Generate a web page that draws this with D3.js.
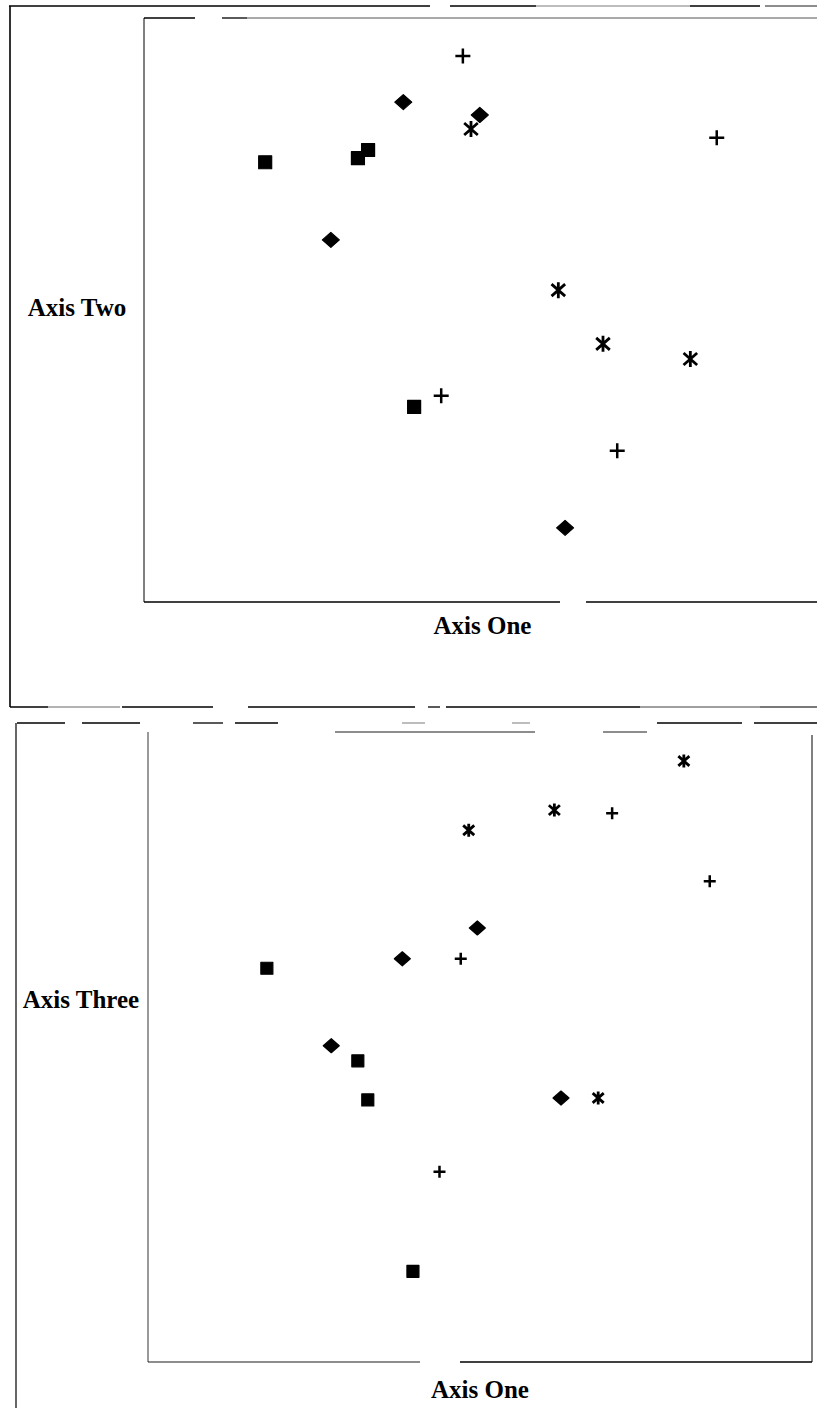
<!DOCTYPE html>
<html>
<head>
<meta charset="utf-8">
<script src="https://cdn.jsdelivr.net/npm/d3@7"></script>
<style>
	html, body { margin: 0; padding: 0; background: #fff; }
	svg { display: block; }
</style>
</head>
<body>
<svg id="chart"></svg>
<script>
// marker group of each sample (order matches the value arrays)
const groups = [
	"square", "square", "square", "square",
	"diamond", "diamond", "diamond", "diamond",
	"asterisk", "asterisk", "asterisk", "asterisk",
	"plus", "plus", "plus", "plus",
];
// ordination scores (arbitrary 0-10 units)
const axisOne = [1.79, 3.16, 3.31, 3.99, 3.83, 4.96, 2.76, 6.22, 4.83, 6.12, 6.78, 8.07, 4.71, 8.46, 4.39, 6.99];
const axisTwo = [7.53, 7.60, 7.74, 3.34, 8.56, 8.34, 6.20, 1.27, 8.10, 5.34, 4.42, 4.16, 9.35, 7.95, 3.53, 2.59];
const axisThree = [6.25, 4.78, 4.16, 1.44, 6.40, 6.89, 5.02, 4.19, 8.44, 8.76, 4.19, 9.54, 6.40, 7.63, 3.02, 8.71];
const axisLabels = ["Axis One", "Axis Two", "Axis Three"];
const domain = [0, 10];

const width = 817;
const height = 1408;
const ink = "#000";

const svg = d3.select("#chart")
	.attr("width", width)
	.attr("height", height)
	.attr("viewBox", [0, 0, width, height]);

// custom marker shapes, size = width in px squared
const shapes = {
	square: {
		draw(ctx, size) {
			const r = Math.sqrt(size) / 2;
			ctx.rect(-r, -r, 2 * r, 2 * r);
		},
	},
	diamond: {
		draw(ctx, size) {
			const rx = Math.sqrt(size) / 2 + 1, ry = Math.sqrt(size) / 2;
			ctx.moveTo(0, -ry);
			ctx.lineTo(rx, 0);
			ctx.lineTo(0, ry);
			ctx.lineTo(-rx, 0);
			ctx.closePath();
		},
	},
	asterisk: {
		draw(ctx, size) {
			const r = Math.sqrt(size) / 2;
			ctx.moveTo(0, -r);
			ctx.lineTo(0, r);
			ctx.moveTo(-r * 0.85, -r * 0.75);
			ctx.lineTo(r * 0.85, r * 0.75);
			ctx.moveTo(-r * 0.85, r * 0.75);
			ctx.lineTo(r * 0.85, -r * 0.75);
		},
	},
	plus: {
		draw(ctx, size) {
			const r = Math.sqrt(size) / 2;
			ctx.moveTo(-r, 0);
			ctx.lineTo(r, 0);
			ctx.moveTo(0, -r);
			ctx.lineTo(0, r);
		},
	},
};

// broken scan-like line: list of [from, to, opacity]
function brokenLine(g, axis, at, pieces, w = 1.3) {
	g.append("g")
		.selectAll("line")
		.data(pieces)
		.join("line")
		.attr("x1", (d) => (axis === "h" ? d[0] : at))
		.attr("x2", (d) => (axis === "h" ? d[1] : at))
		.attr("y1", (d) => (axis === "h" ? at : d[0]))
		.attr("y2", (d) => (axis === "h" ? at : d[1]))
		.attr("stroke", ink)
		.attr("stroke-opacity", (d) => d[2] ?? 1)
		.attr("stroke-width", w);
}

function drawPanel(
	g,
	{
		xValues,
		yValues,
		xRange, // [left, right] of the plot box
		yRange, // [bottom, top] of the plot box
		yLabel,
		yLabelX,
		yLabelY,
		xLabelY,
		sizes, // marker sizes per group
	}
) {
	const xScale = d3.scaleLinear(domain, xRange);
	const yScale = d3.scaleLinear(domain, yRange);

	g.append("g")
		.selectAll("path")
		.data(groups)
		.join("path")
		.attr("transform", (d, i) => `translate(${xScale(xValues[i])},${yScale(yValues[i])})`)
		.attr("d", (d) => d3.symbol(shapes[d], sizes[d] ** 2)())
		.attr("fill", (d) => (d === "square" || d === "diamond" ? ink : "none"))
		.attr("stroke", ink)
		.attr("stroke-linejoin", "round")
		.attr("stroke-width", (d) => (d === "plus" ? 2.5 : d === "asterisk" ? 2.8 : 1.2));

	g.append("text")
		.attr("x", d3.mean(xRange))
		.attr("y", xLabelY)
		.attr("text-anchor", "middle")
		.text(axisLabels[0]);

	g.append("text")
		.attr("x", yLabelX)
		.attr("y", yLabelY)
		.attr("text-anchor", "middle")
		.text(yLabel);

	return { xScale, yScale };
}

const labelsStyle = (sel) =>
	sel.attr("font-family", "'Liberation Serif', 'DejaVu Serif', serif")
		.attr("font-weight", "bold")
		.attr("font-size", 25)
		.attr("fill", ink);

// ---- upper panel: Axis One vs Axis Two
const upper = svg.append("g").call(labelsStyle);
// frames
brokenLine(upper, "h", 6, [[9, 430], [450, 536], [536, 690, 0.35], [690, 760], [765, 817, 0.6]]);
brokenLine(upper, "v", 10, [[6, 707]], 1.6);
brokenLine(upper, "h", 707, [[10, 48], [48, 120, 0.4], [122, 213], [248, 415], [428, 440], [446, 640], [640, 760, 0.5], [760, 817, 0.7]]);
brokenLine(upper, "h", 18, [[144, 195], [222, 247], [247, 817, 0.45]]);
brokenLine(upper, "v", 144, [[18, 602]], 1);
brokenLine(upper, "h", 602, [[144, 560], [586, 817]]);
drawPanel(upper, {
	xValues: axisOne,
	yValues: axisTwo,
	xRange: [144, 821],
	yRange: [602, 18],
	yLabel: axisLabels[1],
	yLabelX: 77,
	yLabelY: 316,
	xLabelY: 634,
	sizes: { square: 13, diamond: 15, asterisk: 16, plus: 15 },
});

// ---- lower panel: Axis One vs Axis Three
const lower = svg.append("g").call(labelsStyle);
brokenLine(lower, "h", 723, [[17, 65], [82, 140], [193, 223], [235, 278], [402, 425, 0.4], [512, 530, 0.4], [657, 742], [754, 817]]);
brokenLine(lower, "v", 16, [[723, 1408]], 1.2);
brokenLine(lower, "h", 732, [[335, 535, 0.6], [603, 647, 0.6]]);
brokenLine(lower, "v", 148, [[732, 1362]], 0.8);
brokenLine(lower, "v", 812, [[735, 1362]], 1);
brokenLine(lower, "h", 1362, [[148, 420, 0.6], [460, 812]]);
drawPanel(lower, {
	xValues: axisOne,
	yValues: axisThree,
	xRange: [148, 812],
	yRange: [1362, 732],
	yLabel: axisLabels[2],
	yLabelX: 81,
	yLabelY: 1008,
	xLabelY: 1398,
	sizes: { square: 12, diamond: 14, asterisk: 13, plus: 12 },
});
</script>
</body>
</html>
